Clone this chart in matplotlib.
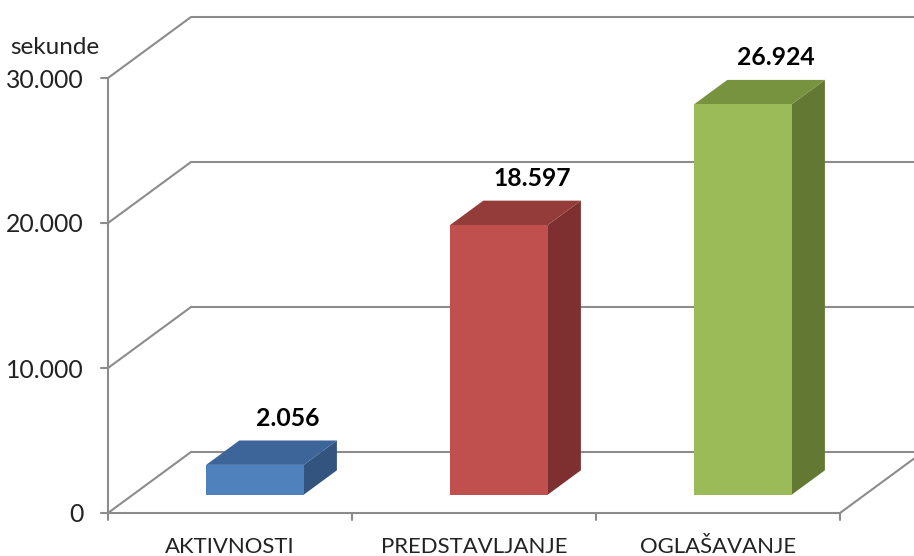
import matplotlib
matplotlib.use("Agg")
import matplotlib.pyplot as plt
from matplotlib.patches import Polygon

categories = ["AKTIVNOSTI", "PREDSTAVLJANJE", "OGLAŠAVANJE"]
values = [2056, 18597, 26924]
value_labels = ["2.056", "18.597", "26.924"]
yticks = [0, 10000, 20000, 30000]
ytick_labels = ["0", "10.000", "20.000", "30.000"]
unit_label = "sekunde"

front_colors = ["#4F81BD", "#C0504D", "#9BBB59"]
top_colors = ["#3D659A", "#943C3A", "#77933F"]
side_colors = ["#33547F", "#7D302F", "#637833"]

W, H = 914, 556
fig = plt.figure(figsize=(W / 100, H / 100), dpi=100)
ax = fig.add_axes([0, 0, 1, 1])
ax.set_axis_off()

# pixel geometry of the plot area (front axis)
px_x0, px_x3 = 108, 840          # x = 0 and x = 3 categories
px_y0, px_y30 = 513, 78          # value 0 and 30000
cat_px = (px_x3 - px_x0) / 3.0
val_per_px = 30000.0 / (px_y0 - px_y30)
ax.set_xlim(-px_x0 / cat_px, 3 + (W - px_x3) / cat_px)
ax.set_ylim(-(H - px_y0) * val_per_px, px_y0 * val_per_px)

DX = 83 / cat_px            # depth offset (categories)
DY = 61 * val_per_px        # depth offset (value units)


def proj(x, y, d):
    return (x + d * DX, y + d * DY)


grid_col = "#8C8C8C"
lw = 1.5
ymax = 30000
ncat = len(categories)

# gridlines on side wall and back wall
for v in yticks:
    p0 = proj(0, v, 0)
    p1 = proj(0, v, 1)
    p2 = proj(ncat + 1, v, 1)
    ax.plot([p0[0], p1[0], p2[0]], [p0[1], p1[1], p2[1]], color=grid_col, lw=lw,
            zorder=1, solid_capstyle="butt")

# floor right edge
a = proj(ncat, 0, 0)
b = proj(ncat, 0, 1)
ax.plot([a[0], b[0]], [a[1], b[1]], color=grid_col, lw=lw, zorder=1)

# front axes
ax.plot([0, 0], [0, ymax], color=grid_col, lw=lw, zorder=3)
ax.plot([0, ncat], [0, 0], color=grid_col, lw=lw, zorder=3)
tick_px = 7
for v, lab in zip(yticks, ytick_labels):
    ax.annotate("", xy=(0, v), xytext=(-tick_px, 0), textcoords="offset pixels",
                arrowprops=dict(arrowstyle="-", color=grid_col, lw=lw,
                                shrinkA=0, shrinkB=0))
    ax.annotate(lab, xy=(0, v), xytext=(-24, -2), textcoords="offset pixels",
                ha="right", va="center", fontsize=17.8, family="Lato", color="#222222")
for i in range(ncat + 1):
    ax.annotate("", xy=(i, 0), xytext=(0, -tick_px), textcoords="offset pixels",
                arrowprops=dict(arrowstyle="-", color=grid_col, lw=lw,
                                shrinkA=0, shrinkB=0))

for i, lab in enumerate(categories):
    ax.annotate(lab, xy=(i + 0.5, 0), xytext=(0, -34), textcoords="offset pixels",
                ha="center", va="center", fontsize=15.9, family="Lato", color="#222222")

# bars
half_w = 0.2
d_front, d_back = 0.3, 0.7
for i, v in enumerate(values):
    c = i + 0.5
    xl, xr = c - half_w, c + half_w
    front = [proj(xl, 0, d_front), proj(xr, 0, d_front), proj(xr, v, d_front), proj(xl, v, d_front)]
    top = [proj(xl, v, d_front), proj(xr, v, d_front), proj(xr, v, d_back), proj(xl, v, d_back)]
    side = [proj(xr, 0, d_front), proj(xr, v, d_front), proj(xr, v, d_back), proj(xr, 0, d_back)]
    ax.add_patch(Polygon(side, closed=True, facecolor=side_colors[i], edgecolor="none", zorder=4))
    ax.add_patch(Polygon(top, closed=True, facecolor=top_colors[i], edgecolor="none", zorder=4))
    ax.add_patch(Polygon(front, closed=True, facecolor=front_colors[i], edgecolor="none", zorder=5))
    ax.annotate(value_labels[i], xy=proj(c, v, d_back), xytext=(0, 22), textcoords="offset pixels",
                ha="center", va="center", fontsize=17.8, fontweight="bold", family="Lato",
                color="black", zorder=6)

ax.text(10 / W, 1 - 48 / H, unit_label, transform=ax.transAxes, ha="left", va="center",
        fontsize=17.5, family="Lato", color="#222222")

fig.savefig("out.png", dpi=100)
